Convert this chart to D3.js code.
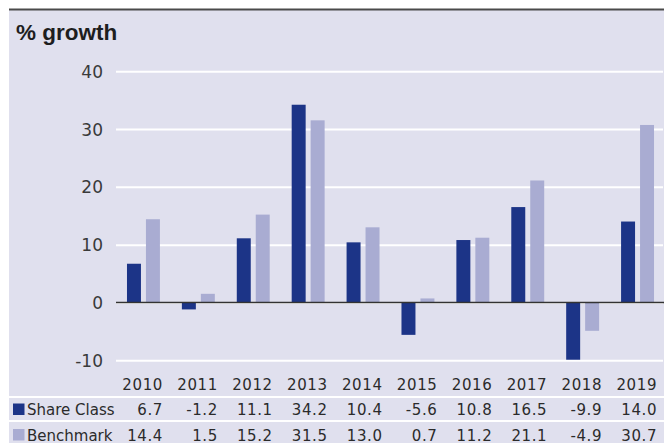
<!DOCTYPE html>
<html>
<head>
<meta charset="utf-8">
<script src="https://cdn.jsdelivr.net/npm/d3@7"></script>
<style>
  html, body { margin: 0; padding: 0; background: #ffffff; }
  svg { display: block; }
  text { font-family: "DejaVu Sans", Verdana, sans-serif; fill: #2b2b2b; }
</style>
</head>
<body>
<div id="chart"></div>
<script>
// Calendar-year performance, share class vs benchmark
const years = ["2010", "2011", "2012", "2013", "2014", "2015", "2016", "2017", "2018", "2019"];
const shareClass = [6.7, -1.2, 11.1, 34.2, 10.4, -5.6, 10.8, 16.5, -9.9, 14.0];
const benchmark = [14.4, 1.5, 15.2, 31.5, 13.0, 0.7, 11.2, 21.1, -4.9, 30.7];
const seriesNames = ["Share Class", "Benchmark"];
const seriesColors = ["#1c3487", "#a9acd2"];
const yTicks = [-10, 0, 10, 20, 30, 40];

const W = 664, H = 443;
const panelLeft = 9, panelTop = 10;

const svg = d3.select("#chart").append("svg")
  .attr("width", W).attr("height", H);

// panel background and top rule
svg.append("rect")
  .attr("x", panelLeft).attr("y", panelTop)
  .attr("width", W - panelLeft).attr("height", H - panelTop)
  .attr("fill", "#e0e0ee");
svg.append("line")
  .attr("x1", panelLeft).attr("x2", W)
  .attr("y1", panelTop - 0.5).attr("y2", panelTop - 0.5)
  .attr("stroke", "#4a4a4a").attr("stroke-width", 1.8);

svg.append("text")
  .attr("x", 16).attr("y", 39.5)
  .style("font-family", "'Liberation Sans', Arial, sans-serif")
  .style("font-weight", "bold").style("font-size", "22.5px")
  .style("fill", "#1e1e1e")
  .text("% growth");

// scales
const x = d3.scaleBand().domain(years).range([116, 665])
  .paddingInner(0.4).paddingOuter(0.2);
const xs = d3.scaleBand().domain(seriesNames).range([0, x.bandwidth()])
  .paddingInner(0.263).paddingOuter(0);
const y = d3.scaleLinear().domain([-10, 40]).range([360.3, 71.2]);

// plain hyphen for negatives
const fmtTick = d => String(d);
const fmt = d => d.toFixed(1);

// gridlines + tick labels
const yAxis = d3.axisLeft(y).tickValues(yTicks).tickSize(-(663 - 116)).tickPadding(13)
  .tickFormat(fmtTick);
const gy = svg.append("g").attr("transform", "translate(116,0)").call(yAxis);
gy.select(".domain").remove();
gy.selectAll(".tick line").attr("stroke", "#ffffff").attr("stroke-width", 2);
gy.selectAll(".tick text")
  .style("font-size", "17px").style("fill", "#3a3a3a")
  .style("font-family", "'DejaVu Sans', sans-serif")
  .attr("x", -13).attr("dy", "0.36em");

// bars
const rows = years.map((yr, i) => ({ year: yr, values: [shareClass[i], benchmark[i]] }));
const groups = svg.append("g").selectAll("g").data(rows).join("g")
  .attr("transform", d => `translate(${x(d.year)},0)`);
groups.selectAll("rect")
  .data(d => d.values.map((v, k) => ({ name: seriesNames[k], v, k })))
  .join("rect")
  .attr("x", d => xs(d.name))
  .attr("width", xs.bandwidth())
  .attr("y", d => Math.min(y(d.v), y(0)))
  .attr("height", d => Math.abs(y(d.v) - y(0)))
  .attr("fill", d => seriesColors[d.k]);

// zero line
svg.append("line")
  .attr("x1", 116).attr("x2", W)
  .attr("y1", y(0)).attr("y2", y(0))
  .attr("stroke", "#333333").attr("stroke-width", 1.6);

// data table beneath the chart
const tableFont = "15px";
const numSpacing = "0.6px";
const rightEdge = d => x(d) + x.bandwidth() / 2 + 19.5;

svg.append("g").selectAll("text").data(years).join("text")
  .attr("x", d => rightEdge(d)).attr("y", 390)
  .attr("text-anchor", "end").style("font-size", tableFont)
  .style("letter-spacing", numSpacing)
  .text(d => d);

[397, 421].forEach(yy => {
  svg.append("line")
    .attr("x1", panelLeft).attr("x2", W)
    .attr("y1", yy).attr("y2", yy)
    .attr("stroke", "#ffffff").attr("stroke-width", 2);
});

const rowBaselines = [415, 440.5];
const rowData = [shareClass, benchmark];
seriesNames.forEach((name, k) => {
  const by = rowBaselines[k];
  svg.append("rect")
    .attr("x", 13).attr("y", by - 11.5)
    .attr("width", 11.5).attr("height", 11.5)
    .attr("fill", seriesColors[k]);
  svg.append("text")
    .attr("x", 27).attr("y", by)
    .style("font-size", tableFont)
    .text(name);
  svg.append("g").selectAll("text").data(rowData[k]).join("text")
    .attr("x", (d, i) => rightEdge(years[i])).attr("y", by)
    .attr("text-anchor", "end").style("font-size", tableFont)
    .style("letter-spacing", numSpacing)
    .text(d => fmt(d));
});
</script>
</body>
</html>
